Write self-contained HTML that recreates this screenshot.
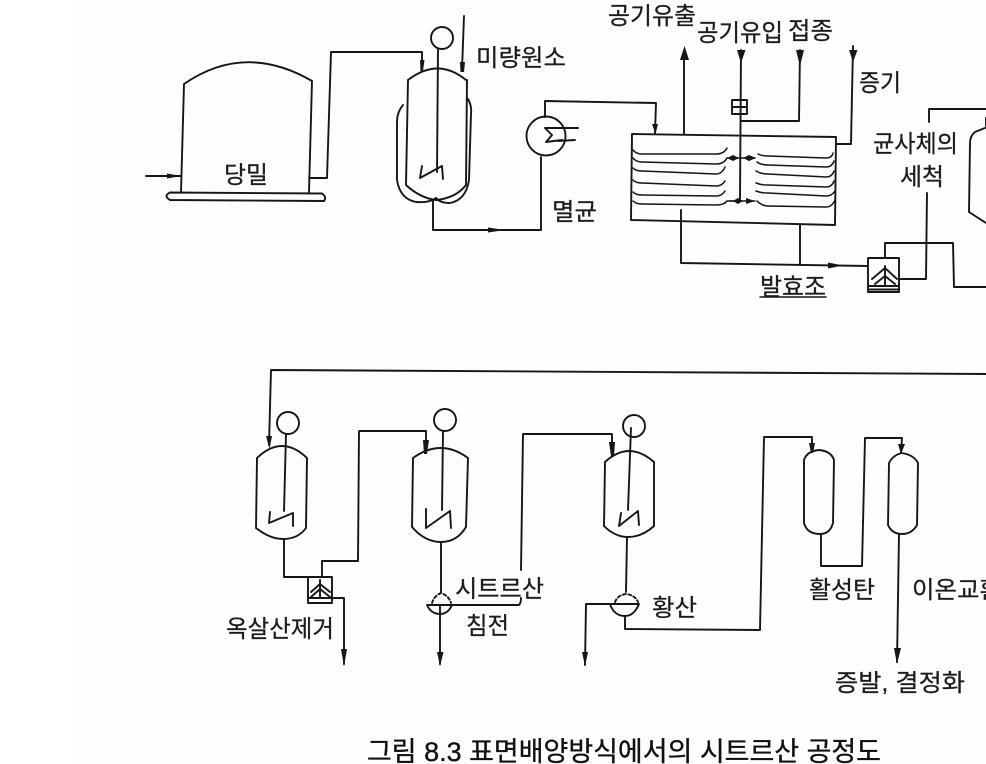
<!DOCTYPE html>
<html lang="ko">
<head>
<meta charset="utf-8">
<title>그림 8.3 표면배양방식에서의 시트르산 공정도</title>
<style>
html,body{margin:0;padding:0;background:#fff;}
body{width:986px;height:764px;overflow:hidden;}
svg{display:block;}
.l{fill:none;stroke:#161616;stroke-width:1.9;stroke-linejoin:round;stroke-linecap:round;}
.t{stroke-width:1.5;}
.d{stroke-dasharray:3 2.5;}
.a{fill:#161616;stroke:none;}
text{font-size:24px;fill:#1c1c1c;}
.k{font-family:"Liberation Sans","Noto Sans CJK KR",sans-serif;font-weight:400;stroke:#1c1c1c;stroke-width:.25;}
.c{font-family:"Liberation Sans","Noto Sans CJK KR",sans-serif;font-size:27px;fill:#111;stroke:#111;stroke-width:.35;}
</style>
</head>
<body>
<svg width="986" height="764" viewBox="0 0 986 764" xmlns="http://www.w3.org/2000/svg">
<rect x="78" y="0" width="908" height="764" fill="#fdfdfb"/>
<rect x="0" y="0" width="78" height="764" fill="#fff"/>

<!-- molasses tank -->
<path class="l" d="M146 176H181M184 84Q245 42 312 81M184 84L181 192M312 81L309 192"/>
<path class="a" d="M167 173.500L181 176L167 178.500Z"/>
<path class="l" d="M170 192.500L322 193.500Q327 197 324 201L170 200Q163 196 170 192.500Z"/>
<path class="l" d="M309 178H327L331 52H422V70"/>
<path class="a" d="M420 60L424.500 60L423 71L420.500 71Z"/>

<!-- jacketed vessel -->
<path class="l" d="M408 80Q438 57 466 80M408 80L406 185Q420 198 436 200Q456 198 466 185L467 80"/>
<path class="l" d="M403 105Q397 112 397 122L397 180Q400 199 416 202Q430 203 436 198"/>
<path class="l" d="M468 99Q472 106 471 114L469 180Q466 200 450 203Q440 203 436 198"/>
<circle class="l" cx="442" cy="38" r="11"/>
<path class="l" d="M438 49L437 172"/>
<path class="l" d="M422 166L420 178L442 166L443 179"/>
<path class="l" d="M464 16L462 70"/>
<path class="a" d="M460 62L465 62L464 72L460.500 72Z"/>
<path class="l" d="M433 200V230H541V157"/>
<path class="a" d="M488 227.500L505 230L488 232.500Z"/>

<!-- sterilizer -->
<circle class="l" cx="546" cy="136" r="19.500"/>
<path class="l" d="M545 117V101L656 103L655 133"/>
<path class="a" d="M652 124L658 124L655.500 134Z"/>
<path class="l" d="M560 128L545 128L552 135L546 142L562 140"/>
<path class="l" d="M553 128H578M558 141L575 140"/>

<!-- fermenter -->
<path class="l" d="M632 134L836 137L835 225L631 220Z"/>
<path class="l t" d="M633 150Q636 154 642 154L716 154Q724 154 727 148"/>
<path class="l t" d="M633 158Q636 162 642 162L716 164Q724 164 727 158"/>
<path class="l t" d="M633 168Q636 171 642 171L716 174Q722 174 725 167"/>
<path class="l t" d="M633 180Q636 183 642 183L716 186Q722 186 725 181"/>
<path class="l t" d="M633 192Q636 195 642 195L716 196Q722 196 725 191"/>
<path class="l t" d="M633 201Q636 204 642 204L716 205Q724 205 727 201H735"/>
<path class="l t" d="M758 154Q762 156 768 156L826 158Q832 158 833 153"/>
<path class="l t" d="M757 162Q761 165 768 165L826 167Q832 167 834 161"/>
<path class="l t" d="M756 171Q761 174 768 174L826 177Q832 177 834 171"/>
<path class="l t" d="M756 183Q761 185 768 185L826 187Q832 187 834 181"/>
<path class="l t" d="M756 191Q761 193 768 193L826 196Q832 196 835 191"/>
<path class="l t" d="M757 201Q762 206 768 206L826 207Q832 207 835 200"/>
<path class="l" d="M741 50L740 200"/>
<path class="l t" d="M727 158H755M730 201H755"/>
<path class="a" d="M727 158L733 155L739 158L733 161Z M749 155L756 158L749 161L743 158Z M733 201L738 198L743 201L738 204Z M746 198L755 201L746 204Z"/>
<path class="l" d="M732 100H747V114H732ZM732 107H747"/>
<path class="l" d="M741 121L799 121L800 50"/>
<path class="a" d="M737 50L745.500 50L741 63Z M796 50L804 50L800 66Z M849 50L857.500 50L853 62Z M680 60L689 60L684.500 46Z"/>
<path class="l" d="M684 134V58"/>
<path class="l" d="M853 46L851 144H836"/>
<path class="l" d="M681 210V263L868 266"/>
<path class="l" d="M800 225V265"/>
<path class="a" d="M828 262.500L843 265.500L828 268.500Z"/>

<!-- filter right -->
<path class="l" d="M868 258H899V292H868ZM868 286H899M868 289.500H899"/>
<path class="l" d="M885 266V286M872 279L885 268L897 279M875 284L885 276L895 284"/>
<path class="l" d="M885 258V243H953L954 287H986"/>
<path class="l" d="M899 279H926L927 193"/>
<path class="l" d="M929 122V109H986"/>
<path class="l" d="M985 128L975 132Q970 136 970 143L969 212L986 223"/>
<path class="l" d="M986 118V126"/>

<!-- long return -->
<path class="l" d="M986 374L271 370L269 445"/>
<path class="a" d="M266 436L272 436L269.500 449Z"/>

<!-- vessel A -->
<path class="l" d="M257 458Q282 434 307 458M257 458L256 528Q270 539 283 539Q298 539 306 528L307 458"/>
<circle class="l" cx="288" cy="423" r="11"/>
<path class="l" d="M286 434L284 511"/>
<path class="l" d="M270 512L269 523L293 513V526"/>
<path class="l" d="M284 539V577H308"/>
<path class="l" d="M308 577H332V603H308ZM308 598H332"/>
<path class="l" d="M320 580V598M311 592L320 584L330 592M311 597L320 589L330 597"/>
<path class="l" d="M322 577V561H358L359 431H426V450"/>
<path class="a" d="M423 440L429 440L427 454L424 454Z"/>
<path class="l" d="M332 598H344V664"/>
<path class="a" d="M341 649L347 649L344 666Z"/>

<!-- vessel B -->
<path class="l" d="M413 458Q441 438 468 458M413 458L412 527Q425 542 441 542Q457 542 466 527L468 458"/>
<circle class="l" cx="445" cy="420" r="11"/>
<path class="l" d="M443 431L442 510"/>
<path class="l" d="M426 509V528L450 511L451 528"/>
<path class="l" d="M441 542V592"/>
<path class="l d" d="M432 603Q434 596 441 593Q449 596 451 603"/>
<path class="l" d="M427 605H452Q448 614 440 614Q431 614 427 605Z"/>
<path class="l" d="M452 605H519Q521 603 521 598"/>
<path class="l" d="M440 605V664"/>
<path class="a" d="M437 652L443.500 652L440 666Z"/>
<path class="l" d="M521 570L523 434H612V450"/>
<path class="a" d="M609 442L615 442L614 456L611 456Z"/>

<!-- vessel C -->
<path class="l" d="M605 462Q629 440 654 462M605 462L604 526Q615 537 628 537Q642 537 654 526V462"/>
<circle class="l" cx="634" cy="426" r="11"/>
<path class="l" d="M631 428L628 510"/>
<path class="l" d="M621 513L619 526L638 511L639 525"/>
<path class="l" d="M627 537L626 592"/>
<path class="l d" d="M615 602Q618 595 626 594Q635 595 638 602"/>
<path class="l" d="M610 604H639Q634 616 625 616Q614 616 610 604Z"/>
<path class="l" d="M610 604H586L585 665"/>
<path class="a" d="M582 652L588 652L585 666Z"/>
<path class="l" d="M625 616V629L760 630L764 437H812V451"/>
<path class="a" d="M809 443L815 443L813 453H811Z"/>

<!-- column D -->
<path class="l" d="M804 460Q807 451 819 450Q831 451 834 460L833 523Q830 534 820 534Q807 534 804 523Z"/>
<path class="l" d="M821 534V566H862L865 438H902L901 452"/>
<path class="a" d="M898 444L905 444L901 454Z"/>

<!-- column E -->
<path class="l" d="M889 463Q893 455 902 453Q914 455 918 463L917 525Q912 534 902 534Q892 534 888 525Z"/>
<path class="l" d="M899 534L897 662"/>
<path class="a" d="M894 648L901 648L897 664Z"/>

<!-- labels -->
<text class="k" x="224" y="183" textLength="44" lengthAdjust="spacingAndGlyphs">당밀</text>
<text class="k" x="476" y="66" textLength="90" lengthAdjust="spacingAndGlyphs">미량원소</text>
<text class="k" x="552" y="220" textLength="45" lengthAdjust="spacingAndGlyphs">멸균</text>
<text class="k" x="608" y="24" textLength="88" lengthAdjust="spacingAndGlyphs">공기유출</text>
<text class="k" x="697" y="41" textLength="86" lengthAdjust="spacingAndGlyphs">공기유입</text>
<text class="k" x="788" y="39" textLength="45" lengthAdjust="spacingAndGlyphs">접종</text>
<text class="k" x="859" y="91" textLength="42" lengthAdjust="spacingAndGlyphs">증기</text>
<text class="k" x="873" y="152" textLength="85" lengthAdjust="spacingAndGlyphs">균사체의</text>
<text class="k" x="900" y="185" textLength="44" lengthAdjust="spacingAndGlyphs">세척</text>
<text class="k" x="760" y="295" textLength="66" lengthAdjust="spacingAndGlyphs">발효조</text>
<path class="l t" d="M760 297L826 297"/>
<text class="k" x="455" y="597" textLength="89" lengthAdjust="spacingAndGlyphs">시트르산</text>
<text class="k" x="466" y="634" textLength="43" lengthAdjust="spacingAndGlyphs">침전</text>
<text class="k" x="226" y="637" textLength="108" lengthAdjust="spacingAndGlyphs">옥살산제거</text>
<text class="k" x="652" y="616" textLength="45" lengthAdjust="spacingAndGlyphs">황산</text>
<text class="k" x="809" y="598" textLength="66" lengthAdjust="spacingAndGlyphs">활성탄</text>
<text class="k" x="912" y="598" textLength="90" lengthAdjust="spacingAndGlyphs">이온교환</text>
<text class="k" x="835" y="691" textLength="130" lengthAdjust="spacingAndGlyphs">증발, 결정화</text>
<text class="c" x="367" y="761" textLength="514" lengthAdjust="spacingAndGlyphs">그림 8.3 표면배양방식에서의 시트르산 공정도</text>
</svg>
</body>
</html>
